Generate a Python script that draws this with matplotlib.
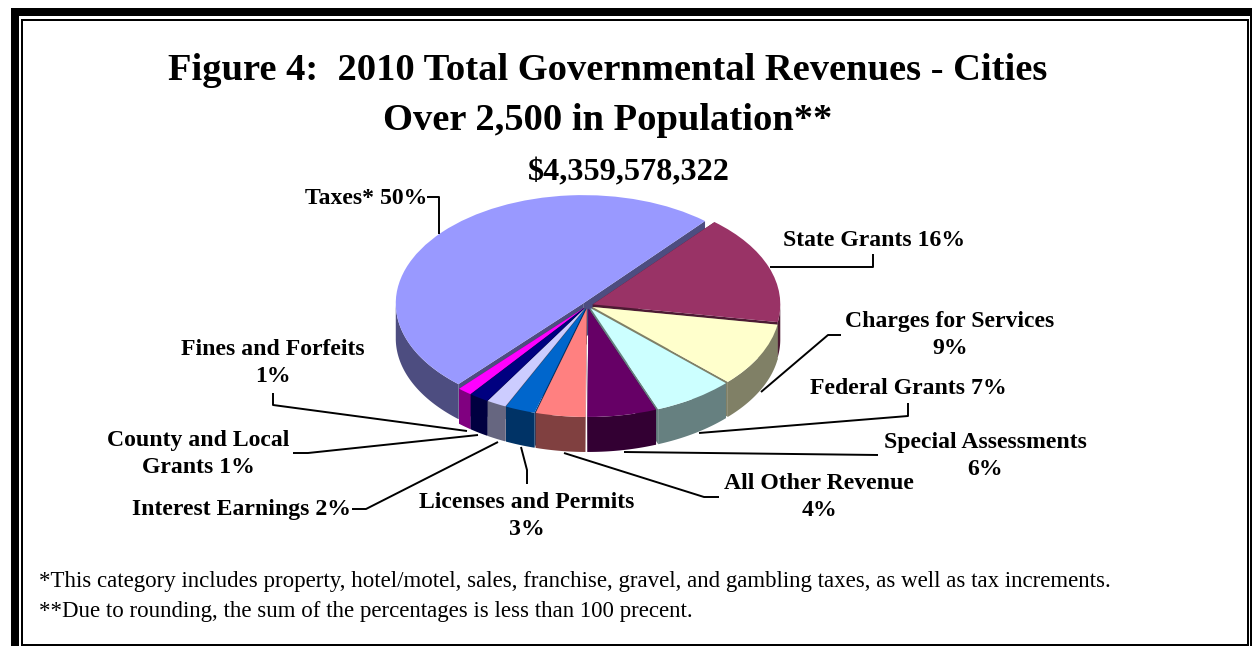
import numpy as np
import matplotlib
matplotlib.use("Agg")
import matplotlib.pyplot as plt
from matplotlib.patches import Wedge, Polygon, Rectangle
from matplotlib.transforms import Affine2D

categories = ["Taxes", "Fines and Forfeits", "County and Local Grants", "Interest Earnings",
              "Licenses and Permits", "All Other Revenue", "Special Assessments",
              "Federal Grants", "Charges for Services", "State Grants"]
shares = [49.9, 1.25, 1.7, 1.7, 2.6, 4.3, 6.0, 7.0, 9.6, 16.45]
top_colors = ["#9999FF", "#FF00FF", "#000080", "#CCCCFF", "#0066CC",
              "#FF8080", "#660066", "#CCFFFF", "#FFFFCC", "#993366"]
wall_colors = ["#4D4D80", "#800080", "#000040", "#666680", "#003366",
               "#804040", "#330033", "#668080", "#808066", "#4D1A33"]

title_lines = ["Figure 4:  2010 Total Governmental Revenues - Cities",
               "Over 2,500 in Population**"]
total_label = "$4,359,578,322"
footnotes = ["*This category includes property, hotel/motel, sales, franchise, gravel, and gambling taxes, as well as tax increments.",
             "**Due to rounding, the sum of the percentages is less than 100 precent."]

W, H = 1252, 646
CX, CY, RX, RY, DEPTH = 587.5, 305.5, 187.5, 108.25, 35
START = 49.5
EXPLODE = 0.03

plt.rcParams["font.family"] = "Liberation Serif"

fig = plt.figure(figsize=(W / 100, H / 100), dpi=100)
ax = fig.add_axes([0, 0, 1, 1])
ax.set_xlim(0, W)
ax.set_ylim(H, 0)
ax.axis("off")

# frame: heavy outer line, thin inner line
ax.add_patch(Rectangle((11, 8), W - 11, H - 8, fc="black", ec="none", zorder=0))
ax.add_patch(Rectangle((19, 16), 1231, H - 16, fc="white", ec="none", zorder=0.1))
ax.add_patch(Rectangle((21, 18.5), 1227.5, 630, fc="black", ec="none", zorder=0.2))
ax.add_patch(Rectangle((23, 20.5), 1224, 623.5, fc="white", ec="none", zorder=0.3))


def point(theta, ox, oy):
    t = np.radians(theta)
    return CX + ox + RX * np.cos(t), CY + oy - RY * np.sin(t)


# work out slice angles from the shares
fracs = np.array(shares) / sum(shares) * 360
t1 = START + np.concatenate([[0], np.cumsum(fracs)[:-1]])
t2 = t1 + fracs
mids = (t1 + t2) / 2
order = np.argsort(-np.sin(np.radians(mids)))  # back to front

z = 2
for i in order:
    ox = EXPLODE * RX * np.cos(np.radians(mids[i]))
    oy = -EXPLODE * RY * np.sin(np.radians(mids[i]))
    wall = wall_colors[i]
    tip = (CX + ox, CY + oy)

    # the two cut faces
    for th in (t1[i], t2[i]):
        x, y = point(th, ox, oy)
        ax.add_patch(Polygon([tip, (x, y), (x, y + DEPTH), (tip[0], tip[1] + DEPTH)],
                             fc=wall, ec="none", zorder=z))

    # outer wall, only the part on the front half of the ellipse
    angles = np.linspace(t1[i], t2[i], 200)
    angles = angles[np.sin(np.radians(angles)) <= 0]
    if len(angles) > 1:
        xs, ys = point(angles, ox, oy)
        pts = list(zip(xs, ys)) + list(zip(xs[::-1], ys[::-1] + DEPTH))
        ax.add_patch(Polygon(pts, fc=wall, ec="none", zorder=z + 0.1))

    tr = Affine2D().scale(RX, -RY).translate(CX + ox, CY + oy) + ax.transData
    ax.add_patch(Wedge((0, 0), 1, t1[i], t2[i], fc=top_colors[i], ec="none",
                       transform=tr, zorder=z + 0.2))
    z += 1

# leader lines, label text
leaders = [
    [(427, 197), (439, 197), (439, 234)],
    [(770, 267), (873, 267), (873, 254)],
    [(761, 392), (828, 335), (841, 335)],
    [(699, 433), (908, 416), (908, 403)],
    [(624, 452), (878, 455)],
    [(564, 453), (704, 497), (719, 497)],
    [(521, 447), (527, 470), (527, 484)],
    [(498, 442), (366, 509), (352, 509)],
    [(478, 435), (308, 453), (293, 453)],
    [(467, 431), (273, 405), (273, 393)],
]
for pts in leaders:
    xs, ys = zip(*pts)
    ax.plot(xs, ys, color="black", lw=1.4, solid_capstyle="butt", zorder=30)

labels = [
    ("Taxes* 50%", 366, 198),
    ("State Grants 16%", 874, 240),
    ("Charges for Services\n9%", 950, 335),
    ("Federal Grants 7%", 908, 388),
    ("Special Assessments\n6%", 985, 456),
    ("All Other Revenue\n4%", 819, 497),
    ("Licenses and Permits\n3%", 527, 516),
    ("Interest Earnings 2%", 242, 510),
    ("County and Local\nGrants 1%", 198, 454),
    ("Fines and Forfeits\n1%", 273, 363),
]
for txt, x, y in labels:
    ax.text(x, y, txt, ha="center", va="center", fontsize=17.1, fontweight="bold",
            linespacing=1.32, zorder=31)

ax.text(608, 71, title_lines[0], ha="center", va="center", fontsize=27.7, fontweight="bold")
ax.text(608, 121, title_lines[1], ha="center", va="center", fontsize=27.7, fontweight="bold")
ax.text(628.5, 173, total_label.replace("$", r"\$"), ha="center", va="center", fontsize=23.2, fontweight="bold")

ax.text(39, 581, footnotes[0], ha="left", va="center", fontsize=16.5)
ax.text(39, 611, footnotes[1], ha="left", va="center", fontsize=16.5)

fig.savefig("out.png", dpi=100)
